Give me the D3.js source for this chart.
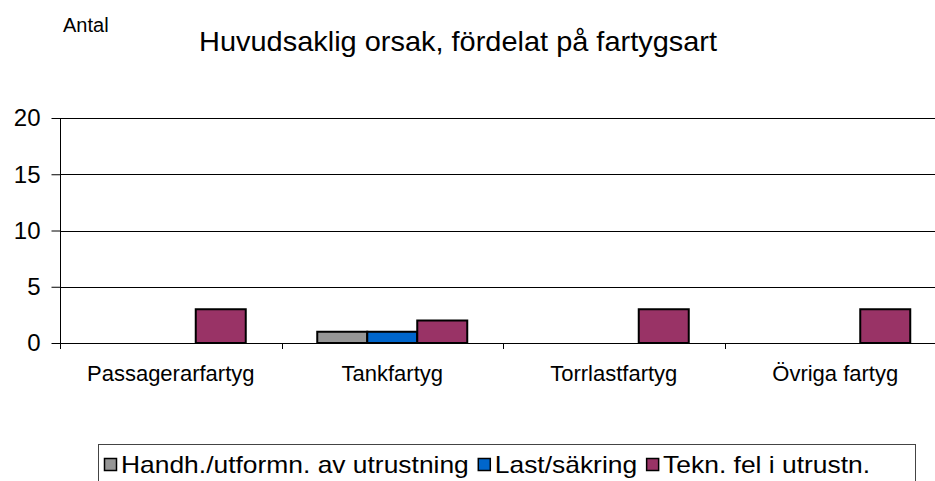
<!DOCTYPE html>
<html>
<head>
<meta charset="utf-8">
<script src="https://cdn.jsdelivr.net/npm/d3@7"></script>
<style>
  body { margin: 0; background: #fff; }
  svg { display: block; font-family: "Liberation Sans", Arial, sans-serif; }
</style>
</head>
<body>
<svg id="chart" width="935" height="481"></svg>
<script>
// chart data
const categories = ['Passagerarfartyg', 'Tankfartyg', 'Torrlastfartyg', 'Övriga fartyg'];
const seriesNames = ['Handh./utformn. av utrustning', 'Last/säkring', 'Tekn. fel i utrustn.'];
const handhValues = [0, 1, 0, 0];
const lastValues = [0, 1, 0, 0];
const teknValues = [3, 2, 3, 3];
const yTicks = [0, 5, 10, 15, 20];
const colors = ['#969696', '#0066cc', '#993366'];

const seriesValues = [handhValues, lastValues, teknValues];

const svg = d3.select('#chart');
const plotLeft = 60, plotRight = 946, plotTop = 118, plotBottom = 343;

const x = d3.scaleBand().domain(categories).range([plotLeft, plotRight]).paddingInner(0).paddingOuter(0);
const xs = d3.scaleBand().domain(seriesNames).range([0, x.bandwidth()]).paddingInner(0).paddingOuter(0.715);
const y = d3.scaleLinear().domain([0, 20]).range([plotBottom, plotTop]);

// gridlines
svg.append('g')
  .selectAll('line')
  .data(yTicks.filter(d => d > 0))
  .join('line')
  .attr('x1', plotLeft).attr('x2', 935)
  .attr('y1', d => Math.round(y(d)) + 0.5).attr('y2', d => Math.round(y(d)) + 0.5)
  .attr('stroke', '#000').attr('stroke-width', 1);

// bars
const groups = svg.append('g')
  .selectAll('g')
  .data(categories)
  .join('g')
  .attr('transform', d => `translate(${x(d)},0)`);

groups.selectAll('rect')
  .data((c, i) => seriesNames.map((s, j) => ({ s, j, v: seriesValues[j][i] })).filter(d => d.v > 0))
  .join('rect')
  .attr('x', d => xs(d.s))
  .attr('width', xs.bandwidth())
  .attr('y', d => y(d.v))
  .attr('height', d => y(0) - y(d.v))
  .attr('fill', d => colors[d.j])
  .attr('stroke', '#000')
  .attr('stroke-width', 2);

// y axis
const yAxis = svg.append('g')
  .attr('transform', `translate(${plotLeft + 0.5},0)`)
  .call(d3.axisLeft(y).tickValues(yTicks).tickSize(9).tickPadding(11));
yAxis.select('.domain').attr('stroke', '#000').attr('d', `M0,${plotTop}V${plotBottom + 5}`);
yAxis.selectAll('.tick line').attr('stroke', '#000');
yAxis.selectAll('.tick text')
  .attr('font-size', 24)
  .attr('font-family', '"Liberation Sans", Arial, sans-serif')
  .attr('fill', '#000')
  .attr('dy', '0.33em');

// x axis
const xAxis = svg.append('g')
  .attr('transform', `translate(0,${Math.round(plotBottom) + 0.5})`)
  .call(d3.axisBottom(x).tickSize(0).tickPadding(0));
xAxis.select('.domain').attr('stroke', '#000').attr('d', `M${plotLeft - 8},0H935`);
xAxis.selectAll('.tick text')
  .attr('font-size', 22)
  .attr('font-family', '"Liberation Sans", Arial, sans-serif')
  .attr('fill', '#000')
  .attr('dy', 0)
  .attr('y', 37);
// category separators
svg.append('g')
  .selectAll('line')
  .data(categories)
  .join('line')
  .attr('x1', d => Math.round(x(d)) + 0.5).attr('x2', d => Math.round(x(d)) + 0.5)
  .attr('y1', plotBottom).attr('y2', plotBottom + 6)
  .attr('stroke', '#000');

// titles
svg.append('text')
  .attr('x', 199).attr('y', 51)
  .attr('font-size', 28)
  .attr('textLength', 518)
  .attr('lengthAdjust', 'spacingAndGlyphs')
  .text('Huvudsaklig orsak, fördelat på fartygsart');

svg.append('text')
  .attr('x', 63).attr('y', 32)
  .attr('font-size', 20)
  .text('Antal');

// legend
const legend = svg.append('g');
legend.append('rect')
  .attr('x', 98.5).attr('y', 444.5)
  .attr('width', 817).attr('height', 45)
  .attr('fill', '#fff').attr('stroke', '#444');

let lx = 104;
seriesNames.forEach((name, i) => {
  legend.append('rect')
    .attr('x', lx + 0.5).attr('y', 458.5)
    .attr('width', 12).attr('height', 12)
    .attr('fill', colors[i]).attr('stroke', '#000').attr('stroke-width', 1.5);
  const t = legend.append('text')
    .attr('x', lx + 17).attr('y', 473)
    .attr('font-size', 24)
    .text(name);
  const w = t.node().getComputedTextLength() * 1.1;
  t.attr('textLength', w).attr('lengthAdjust', 'spacingAndGlyphs');
  lx += 17 + w + 9;
});
</script>
</body>
</html>
